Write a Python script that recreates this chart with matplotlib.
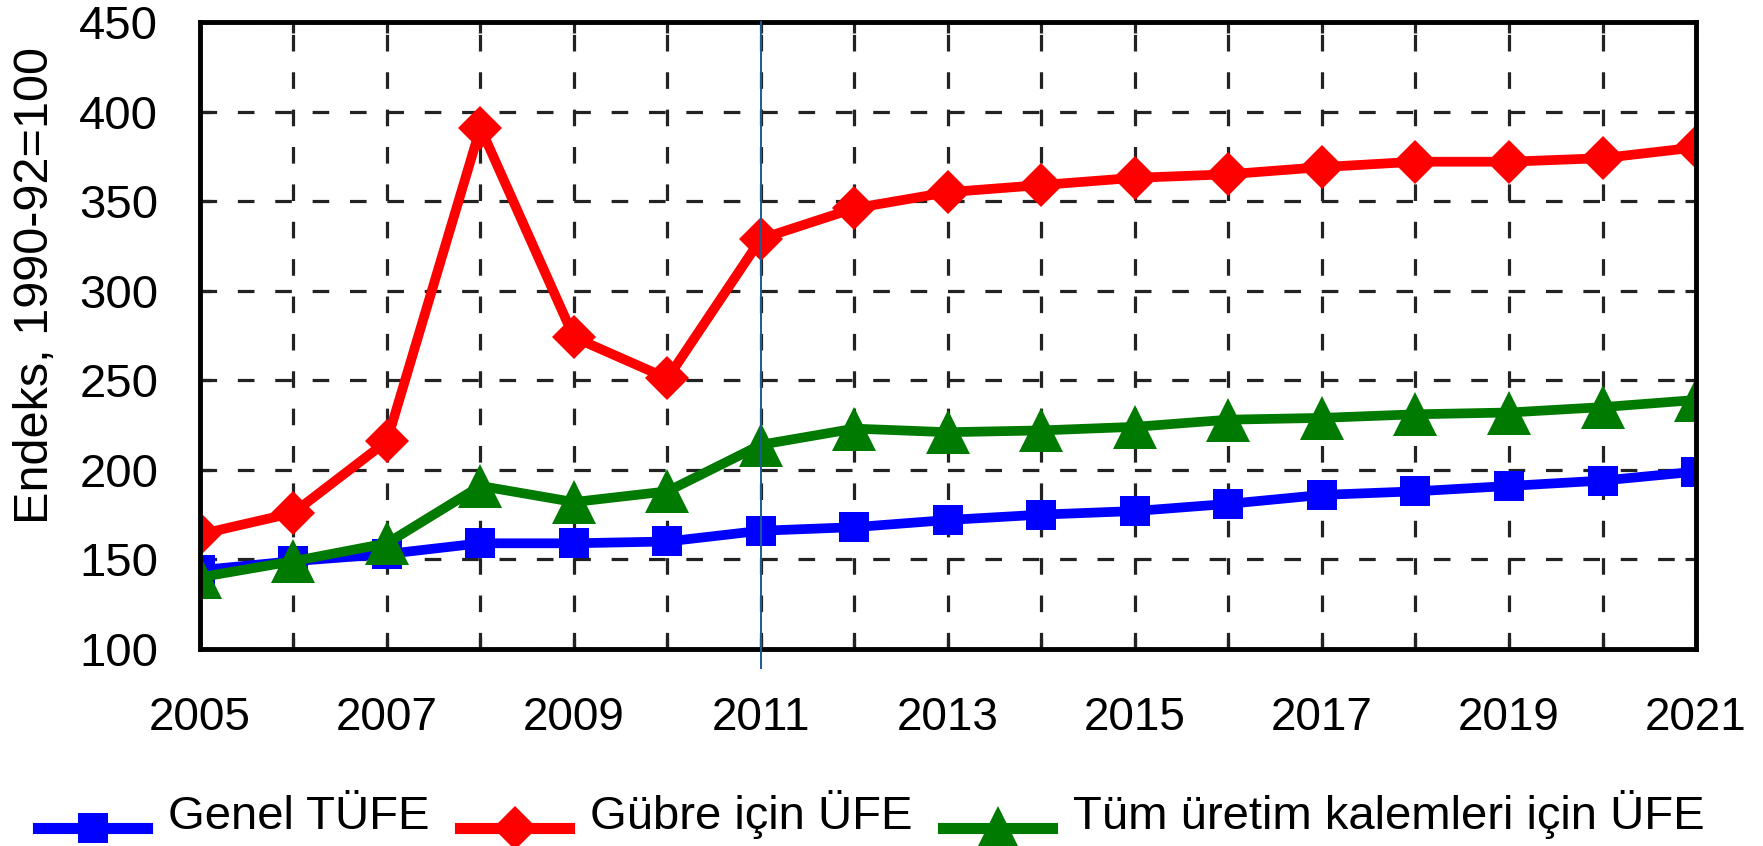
import matplotlib
matplotlib.use("Agg")
import matplotlib.pyplot as plt
from matplotlib.ticker import MultipleLocator

years = list(range(2005, 2022))

# Genel TÜFE
genel_tufe = [144, 149, 153, 159, 159, 160, 166, 168, 172, 175, 177, 181, 186, 188, 191, 194, 199]
# Gübre için ÜFE
gubre_ufe = [164, 176, 216, 391, 274, 251, 329, 346, 355, 359, 363, 365, 369, 372, 372, 374, 380]
# Tüm üretim kalemleri için ÜFE
tum_ufe = [140, 149, 159, 191, 182, 188, 214, 223, 221, 222, 224, 228, 229, 231, 232, 235, 239]

labels = ["Genel TÜFE", "Gübre için ÜFE", "Tüm üretim kalemleri için ÜFE"]
y_ticks = [100, 150, 200, 250, 300, 350, 400, 450]

plt.rcParams["font.family"] = ["Liberation Sans", "DejaVu Sans"]

fig = plt.figure(figsize=(17.63, 8.46), dpi=100)
ax = fig.add_axes([0.1134, 0.2329, 0.8486, 0.7411])

ax.plot(years, genel_tufe, color="#0000ff", lw=7, marker="s", ms=22,
        mew=0, label=labels[0], zorder=5)
ax.plot(years, gubre_ufe, color="#ff0000", lw=7, marker="D", ms=22,
        mew=0, label=labels[1], zorder=4)
ax.plot(years, tum_ufe, color="#007a00", lw=7, marker="^", ms=31,
        mew=0, label=labels[2], zorder=6)

# thin vertical marker line at 2011
ax.axvline(2011, ymin=-0.03, ymax=1, color="#1a5a9a", lw=1.4,
           clip_on=False, zorder=10)

ax.set_xlim(2005, 2021)
ax.set_ylim(100, 450)
ax.xaxis.set_minor_locator(MultipleLocator(1))
ax.set_yticks(y_ticks)
ax.set_xticks(years[::2])
ax.set_xticklabels([str(y) for y in years[::2]], fontsize=33)
ax.set_yticklabels([str(v) for v in y_ticks], fontsize=34)

ax.grid(True, which="both", color="#222222", lw=2.3, dashes=(5.2, 6.5))
ax.tick_params(which="both", direction="in", top=True, right=True,
               length=8, width=2.3, color="#222222")
ax.tick_params(axis="x", which="major", pad=34)
ax.tick_params(axis="y", which="major", pad=30)

for sp in ax.spines.values():
    sp.set_linewidth(3.5)
    sp.set_color("black")
    sp.set_zorder(8)

ax.set_ylabel("Endeks, 1990-92=100", fontsize=35)
ax.yaxis.set_label_coords(-0.095, 0.58)

leg = fig.legend(loc="lower left", bbox_to_anchor=(0.011, -0.014), ncol=3,
                 frameon=False, numpoints=1, handlelength=2.3,
                 handletextpad=0.45, columnspacing=0.65, borderaxespad=0,
                 prop={"size": 34})
# legend lines sit on the text baseline, as in the source figure
for h in leg.legend_handles:
    h.set_linewidth(8)
    h.set_ydata([y - 11 for y in h.get_ydata()])

fig.savefig("out.png", dpi=100)
